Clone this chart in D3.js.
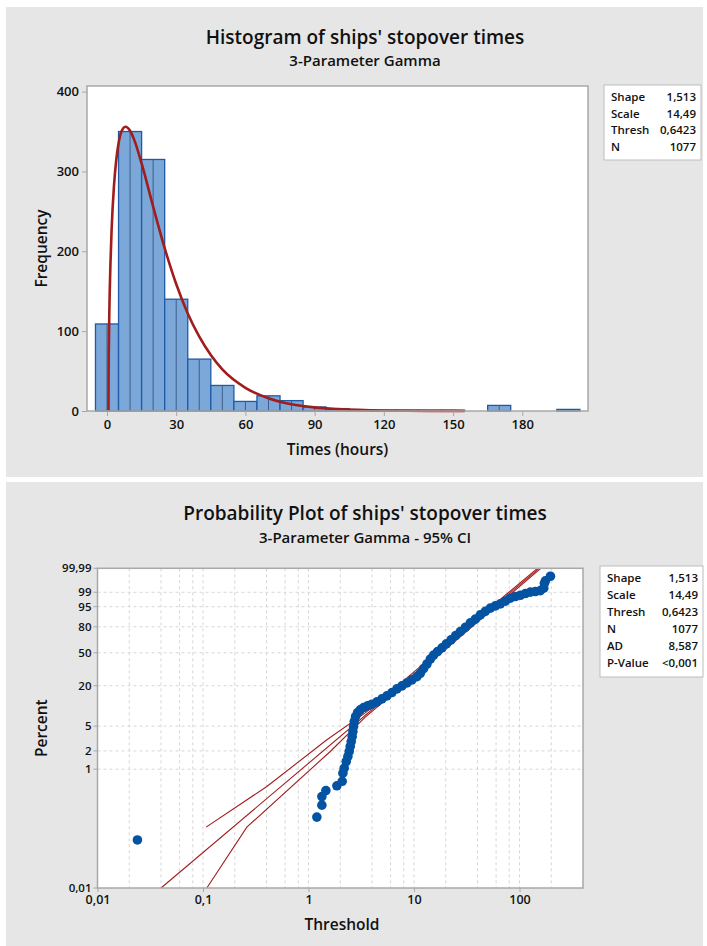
<!DOCTYPE html>
<html>
<head>
<meta charset="utf-8">
<script src="https://cdn.jsdelivr.net/npm/d3@7"></script>
<style>
  body { margin: 0; background: #fff; }
  text { font-family: "Open Sans", "Noto Sans", sans-serif; fill: #111; }
</style>
</head>
<body>
<svg id="chart" width="707" height="946"></svg>
<script>
// ---- histogram data (10 h bins, centre of bin) ----
const binMids = [0, 10, 20, 30, 40, 50, 60, 70, 80, 90, 100, 110, 120, 130, 140, 150, 160, 170, 180, 190, 200];
const binCounts = [109, 350, 315, 140, 65, 32, 12, 19, 13, 5, 3, 1, 1, 1, 1, 1, 0, 7, 0, 0, 2];
// points read on the fitted 3-parameter gamma curve (hours, frequency)
const fitCurve = [[0.64, 0], [0.7, 49], [0.8, 82], [1, 122], [1.5, 185], [2, 227], [3, 281], [4, 314],
  [5, 335], [6, 348], [8, 356], [10, 351], [12, 338], [15, 310], [20, 256], [25, 204], [30, 159],
  [35, 122], [40, 93], [45, 70], [50, 52], [60, 29], [70, 16], [80, 8.4], [90, 4.5], [100, 2.4],
  [120, 0.65], [150, 0.1], [155, 0.07]];
const histXTicks = [0, 30, 60, 90, 120, 150, 180];
const histYTicks = [0, 100, 200, 300, 400];
const histStats = [["Shape", "1,513"], ["Scale", "14,49"], ["Thresh", "0,6423"], ["N", "1077"]];

// ---- probability plot data (threshold-adjusted time, percent) ----
const probPoints = [[0.0239, 0.065], [1.200, 0.158], [1.339, 0.251], [1.339, 0.35], [1.462, 0.44],
  [1.858, 0.53], [2.087, 0.63], [2.119, 0.86], [2.181, 1.04], [2.279, 1.34], [2.363, 1.62],
  [2.432, 1.96], [2.486, 2.36], [2.541, 2.84], [2.597, 3.42], [2.636, 4.11], [2.674, 4.93],
  [2.714, 5.91], [2.794, 7.07], [2.919, 8.14], [3.094, 8.95], [3.327, 9.70], [3.632, 10.27],
  [3.993, 10.87], [4.454, 11.77], [4.967, 13.03], [5.540, 14.39], [6.180, 16.07], [6.894, 18.11],
  [7.690, 19.90], [8.577, 21.86], [9.566, 24.02], [10.67, 26.49], [11.48, 29.21], [12.34, 33.38],
  [13.27, 37.83], [14.28, 42.86], [15.36, 47.37], [16.76, 51.50], [18.43, 55.77], [20.25, 60.54],
  [22.43, 65.32], [24.83, 70.46], [27.50, 74.83], [30.67, 79.51], [34.21, 83.78], [38.15, 87.08],
  [42.56, 90.31], [47.48, 92.56], [52.94, 94.31], [59.06, 95.38], [65.88, 96.18], [73.48, 97.09],
  [81.98, 97.91], [91.44, 98.28], [102.0, 98.53], [113.8, 98.82], [126.9, 99.02], [141.6, 99.10],
  [157.9, 99.21], [169.8, 99.45], [172.3, 99.75], [176.1, 99.84], [196.5, 99.935]];
const fitLine = [[0.04, 0.01], [153.6, 99.99]];
const ciUpper = [[0.107, 0.107], [0.403, 0.515], [1.494, 3.03], [3.451, 8.05], [10, 30.4], [147.9, 99.99]];
const ciLower = [[0.1087, 0.01], [0.2604, 0.107], [1.607, 1.955], [3.451, 6.91], [10, 27.0], [159.3, 99.99]];
const pctTicks = [0.01, 1, 2, 5, 20, 50, 80, 95, 99, 99.99];
const pctGrid = [1, 2, 5, 20, 50, 80, 95, 99];
const thrTicks = [0.01, 0.1, 1, 10, 100];
const thrGrid = [0.02, 0.04, 0.06, 0.08, 0.1, 0.2, 0.4, 0.6, 0.8, 1, 2, 4, 6, 8, 10, 20, 40, 60, 80, 100, 200];
const probStats = [["Shape", "1,513"], ["Scale", "14,49"], ["Thresh", "0,6423"], ["N", "1077"], ["AD", "8,587"], ["P-Value", "<0,001"]];

const shape = 1.513;
const fmt = d => String(d).replace(".", ",");

// gamma helpers for the probability scale
function lnGamma(z) {
  const c = [76.18009172947146, -86.50532032941677, 24.01409824083091, -1.231739572450155, 0.1208650973866179e-2, -0.5395239384953e-5];
  let y = z, tmp = z + 5.5;
  tmp -= (z + 0.5) * Math.log(tmp);
  let ser = 1.000000000190015;
  for (const k of c) ser += k / ++y;
  return -tmp + Math.log(2.5066282746310005 * ser / z);
}
function gammaP(a, x) {
  if (x <= 0) return 0;
  const gln = lnGamma(a);
  if (x < a + 1) {
    let ap = a, sum = 1 / a, del = sum;
    for (let n = 0; n < 300; n++) {
      ap += 1; del *= x / ap; sum += del;
      if (Math.abs(del) < Math.abs(sum) * 1e-14) break;
    }
    return sum * Math.exp(-x + a * Math.log(x) - gln);
  }
  let b = x + 1 - a, c = 1e300, d = 1 / b, h = d;
  for (let i = 1; i < 300; i++) {
    const an = -i * (i - a);
    b += 2;
    d = an * d + b; if (Math.abs(d) < 1e-300) d = 1e-300;
    c = b + an / c; if (Math.abs(c) < 1e-300) c = 1e-300;
    d = 1 / d;
    const del = d * c;
    h *= del;
    if (Math.abs(del - 1) < 1e-14) break;
  }
  return 1 - Math.exp(-x + a * Math.log(x) - gln) * h;
}
// log of the gamma quantile
function logQuantile(p) {
  let lo = -30, hi = 5;
  for (let i = 0; i < 80; i++) {
    const mid = (lo + hi) / 2;
    if (gammaP(shape, Math.exp(mid)) < p) lo = mid; else hi = mid;
  }
  return (lo + hi) / 2;
}

const svg = d3.select("#chart");
const panelFill = "#e6e6e6";
const frameCol = "#a8a8a8";
const red = "#a11d1d";

svg.append("rect").attr("x", 6).attr("y", 7).attr("width", 697).attr("height", 470).attr("fill", panelFill);
svg.append("rect").attr("x", 6).attr("y", 482).attr("width", 697).attr("height", 464).attr("fill", panelFill);

function titles(cx, y1, t1, y2, t2) {
  svg.append("text").attr("x", cx).attr("y", y1).attr("text-anchor", "middle")
    .attr("font-size", "19px").attr("font-weight", 600).text(t1);
  svg.append("text").attr("x", cx).attr("y", y2).attr("text-anchor", "middle")
    .attr("font-size", "15px").attr("font-weight", 600).text(t2);
}

function statsBox(x, y, w, rowH, rows) {
  svg.append("rect").attr("x", x).attr("y", y).attr("width", w).attr("height", rows.length * rowH + 9)
    .attr("fill", "#fff").attr("stroke", "#bdbdbd");
  const g = svg.append("g");
  g.selectAll("text.k").data(rows).join("text").attr("class", "k")
    .attr("x", x + 7).attr("y", (d, i) => y + 16 + i * rowH)
    .attr("font-size", "11.5px").attr("font-weight", 600).text(d => d[0]);
  g.selectAll("text.v").data(rows).join("text").attr("class", "v")
    .attr("x", x + w - 5).attr("y", (d, i) => y + 16 + i * rowH)
    .attr("text-anchor", "end").attr("font-size", "11.5px").attr("font-weight", 600).text(d => d[1]);
}

// ================= histogram =================
const H = { left: 87, right: 588, top: 86, bottom: 411 };
titles(365, 44, "Histogram of ships' stopover times", 66, "3-Parameter Gamma");

const hx = d3.scaleLinear().domain([-8.67, 208.5]).range([H.left, H.right]);
const hy = d3.scaleLinear().domain([0, 407]).range([H.bottom, H.top]);

svg.append("rect").attr("x", H.left).attr("y", H.top).attr("width", H.right - H.left)
  .attr("height", H.bottom - H.top).attr("fill", "#fff");

const bins = binMids.map((m, i) => ({ mid: m, count: binCounts[i] })).filter(d => d.count > 0);
const gBars = svg.append("g");
gBars.selectAll("rect").data(bins).join("rect")
  .attr("x", d => hx(d.mid - 5))
  .attr("y", d => hy(d.count))
  .attr("width", d => hx(d.mid + 5) - hx(d.mid - 5))
  .attr("height", d => hy(0) - hy(d.count))
  .attr("fill", "#7ba7d9")
  .attr("stroke", "#1d5ba6")
  .attr("stroke-width", 1.3);
gBars.selectAll("line").data(bins.filter(d => d.count > 2)).join("line")
  .attr("x1", d => hx(d.mid)).attr("x2", d => hx(d.mid))
  .attr("y1", d => hy(d.count)).attr("y2", hy(0))
  .attr("stroke", "#3f5f8a").attr("stroke-width", 1);

svg.append("path").datum(fitCurve)
  .attr("fill", "none").attr("stroke", red).attr("stroke-width", 2.6)
  .attr("d", d3.line().x(d => hx(d[0])).y(d => hy(d[1])).curve(d3.curveMonotoneX));

svg.append("rect").attr("x", H.left).attr("y", H.top).attr("width", H.right - H.left)
  .attr("height", H.bottom - H.top).attr("fill", "none").attr("stroke", frameCol).attr("stroke-width", 1.5);

const hxAxis = svg.append("g").attr("transform", `translate(0,${H.bottom})`)
  .call(d3.axisBottom(hx).tickValues(histXTicks).tickSize(5).tickPadding(4));
const hyAxis = svg.append("g").attr("transform", `translate(${H.left},0)`)
  .call(d3.axisLeft(hy).tickValues(histYTicks).tickSize(5).tickPadding(3));
[hxAxis, hyAxis].forEach(a => {
  a.select(".domain").remove();
  a.selectAll("line").attr("stroke", frameCol);
  a.selectAll("text").attr("font-size", "13px").attr("font-family", null).attr("fill", "#111")
    .attr("font-weight", 600);
});

svg.append("text").attr("x", (H.left + H.right) / 2).attr("y", 455).attr("text-anchor", "middle")
  .attr("font-size", "15.5px").attr("font-weight", 600).text("Times (hours)");
svg.append("text").attr("transform", `translate(47,${(H.top + H.bottom) / 2}) rotate(-90)`)
  .attr("text-anchor", "middle").attr("font-size", "15.5px").attr("font-weight", 600).text("Frequency");

statsBox(604, 85, 97, 16.5, histStats);

// ================= probability plot =================
const P = { left: 97.5, right: 583, top: 568.3, bottom: 888 };
titles(365, 520, "Probability Plot of ships' stopover times", 543, "3-Parameter Gamma - 95% CI");

const px = d3.scaleLog().domain([0.01, 400]).range([P.left, P.right]);
const zScale = d3.scaleLinear().domain([logQuantile(0.0001), logQuantile(0.9999)]).range([P.bottom, P.top]);
const py = p => zScale(logQuantile(p / 100));

svg.append("rect").attr("x", P.left).attr("y", P.top).attr("width", P.right - P.left)
  .attr("height", P.bottom - P.top).attr("fill", "#fff");

const grid = svg.append("g").attr("stroke", "#d6d6d6").attr("stroke-dasharray", "3,3");
grid.selectAll("line.v").data(thrGrid).join("line").attr("class", "v")
  .attr("x1", d => px(d)).attr("x2", d => px(d)).attr("y1", P.top).attr("y2", P.bottom);
grid.selectAll("line.h").data(pctGrid).join("line").attr("class", "h")
  .attr("x1", P.left).attr("x2", P.right).attr("y1", d => py(d)).attr("y2", d => py(d));

const pline = d3.line().x(d => px(d[0])).y(d => py(d[1]));
svg.append("g").attr("fill", "none").attr("stroke", red).attr("stroke-width", 1.1)
  .selectAll("path").data([ciUpper, fitLine, ciLower]).join("path").attr("d", pline);

svg.append("g").selectAll("circle").data(probPoints).join("circle")
  .attr("cx", d => px(d[0])).attr("cy", d => py(d[1])).attr("r", 4.8)
  .attr("fill", "#0453a3");

svg.append("rect").attr("x", P.left).attr("y", P.top).attr("width", P.right - P.left)
  .attr("height", P.bottom - P.top).attr("fill", "none").attr("stroke", frameCol).attr("stroke-width", 1.5);

const pxAxis = svg.append("g").attr("transform", `translate(0,${P.bottom})`)
  .call(d3.axisBottom(px).tickValues(thrTicks).tickFormat(fmt).tickSize(4).tickPadding(3));
pxAxis.select(".domain").remove();
pxAxis.selectAll("line").attr("stroke", frameCol);
pxAxis.selectAll("text").attr("font-size", "12.5px").attr("font-family", null).attr("fill", "#111")
  .attr("font-weight", 600);

const pyAxis = svg.append("g").attr("transform", `translate(${P.left},0)`);
const pyTicks = pyAxis.selectAll("g").data(pctTicks).join("g")
  .attr("transform", d => `translate(0,${py(d)})`);
pyTicks.append("line").attr("x2", -4).attr("stroke", frameCol);
pyTicks.append("text").attr("x", -6).attr("dy", "0.35em").attr("text-anchor", "end")
  .attr("font-size", "11.5px").attr("font-weight", 600).text(fmt);

svg.append("text").attr("x", 342).attr("y", 930).attr("text-anchor", "middle")
  .attr("font-size", "15.5px").attr("font-weight", 600).text("Threshold");
svg.append("text").attr("transform", `translate(47,${(P.top + P.bottom) / 2}) rotate(-90)`)
  .attr("text-anchor", "middle").attr("font-size", "15.5px").attr("font-weight", 600).text("Percent");

statsBox(600, 566, 103, 17, probStats);
</script>
</body>
</html>
